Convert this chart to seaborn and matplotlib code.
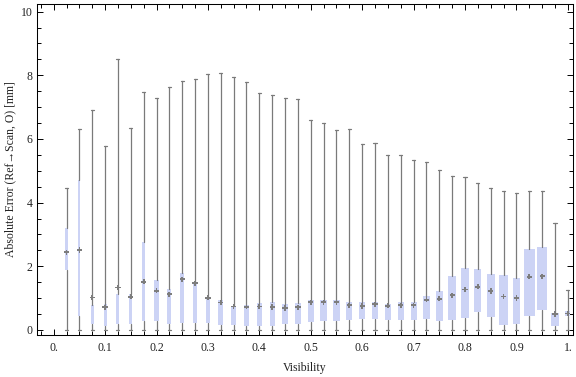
import matplotlib
matplotlib.use('Agg')
import matplotlib.pyplot as plt
import numpy as np
import pandas as pd
import seaborn as sns
from matplotlib.ticker import MultipleLocator, FixedLocator, FixedFormatter

# visibility bins (box positions)
visibility = [0.025, 0.05, 0.075, 0.1, 0.125, 0.15, 0.175, 0.2, 0.225, 0.25,
              0.275, 0.3, 0.325, 0.35, 0.375, 0.4, 0.425, 0.45, 0.475, 0.5,
              0.525, 0.55, 0.575, 0.6, 0.625, 0.65, 0.675, 0.7, 0.725, 0.75,
              0.775, 0.8, 0.825, 0.85, 0.875, 0.9, 0.925, 0.95, 0.975, 1.0]

err_min = [0.0] * 40
err_max = [4.47, 6.32, 6.92, 5.77, 8.52, 6.35, 7.48, 7.29, 7.64, 7.83,
           7.89, 8.05, 8.08, 7.95, 7.79, 7.45, 7.39, 7.29, 7.26, 6.60,
           6.51, 6.29, 6.32, 5.85, 5.88, 5.51, 5.51, 5.35, 5.29, 5.03,
           4.85, 4.79, 4.63, 4.47, 4.35, 4.31, 4.38, 4.35, 3.37, 1.26]
err_q3 = [3.20, 4.70, 0.78, 0.81, 1.13, 1.13, 2.75, 1.57, 1.28, 1.79,
          1.51, 1.03, 0.93, 0.75, 0.78, 0.85, 0.88, 0.81, 0.85, 0.94,
          0.94, 0.94, 0.88, 0.87, 0.88, 0.83, 0.88, 0.88, 1.07, 1.22,
          1.69, 1.94, 1.91, 1.76, 1.71, 1.64, 2.55, 2.61, 0.53, 0.59]
err_q1 = [1.87, 0.43, 0.18, 0.12, 0.19, 0.20, 0.29, 0.29, 0.20, 0.21,
          0.21, 0.21, 0.15, 0.16, 0.13, 0.13, 0.13, 0.20, 0.20, 0.26,
          0.29, 0.29, 0.32, 0.35, 0.35, 0.32, 0.32, 0.32, 0.35, 0.29,
          0.32, 0.39, 0.57, 0.42, 0.17, 0.20, 0.45, 0.64, 0.13, 0.45]
err_mid = [2.44, 2.51, 1.02, 0.71, 1.33, 1.04, 1.51, 1.23, 1.12, 1.59,
           1.47, 1.01, 0.86, 0.74, 0.73, 0.74, 0.72, 0.69, 0.71, 0.87,
           0.87, 0.87, 0.78, 0.75, 0.81, 0.76, 0.78, 0.78, 0.95, 0.98,
           1.09, 1.27, 1.36, 1.22, 1.05, 1.00, 1.67, 1.69, 0.50, 0.52]
# relative box widths as drawn (data units along visibility)
box_w = [0.006, 0.004, 0.006, 0.006, 0.006, 0.006, 0.006, 0.008, 0.008, 0.008,
         0.007, 0.007, 0.009, 0.009, 0.011, 0.011, 0.010, 0.0125, 0.013, 0.012,
         0.013, 0.012, 0.011, 0.012, 0.012, 0.013, 0.012, 0.012, 0.014, 0.014,
         0.015, 0.014, 0.014, 0.0155, 0.016, 0.015, 0.021, 0.0195, 0.0155, 0.010]

x_ticks = [0.0, 0.1, 0.2, 0.3, 0.4, 0.5, 0.6, 0.7, 0.8, 0.9, 1.0]
x_labels = ['0.', '0.1', '0.2', '0.3', '0.4', '0.5', '0.6', '0.7', '0.8', '0.9', '1.']

df = pd.DataFrame({'vis': visibility, 'lo': err_min, 'q1': err_q1, 'mid': err_mid,
                   'q3': err_q3, 'hi': err_max, 'w': box_w})

sns.set_theme(style='ticks')
plt.rcParams['font.family'] = ['Liberation Serif', 'DejaVu Serif']
plt.rcParams['font.size'] = 8.5

box_color = '#CCD3F5'
line_gray = '#7a7a7a'

fig, ax = plt.subplots(figsize=(5.76, 3.77), dpi=100)
fig.subplots_adjust(left=0.0637, right=0.9948, bottom=0.1122, top=0.9894)

stats = [dict(whislo=r.lo, q1=r.q1, med=r.mid, q3=r.q3, whishi=r.hi) for r in df.itertuples()]
ax.bxp(stats, positions=df.vis, widths=df.w, capwidths=0.006, patch_artist=True,
       showfliers=False, manage_ticks=False,
       boxprops=dict(facecolor=box_color, edgecolor='none', linewidth=0),
       whiskerprops=dict(color=line_gray, linewidth=0.9),
       capprops=dict(color=line_gray, linewidth=0.9),
       medianprops=dict(linewidth=0))

sns.scatterplot(data=df, x='vis', y='mid', marker='P', s=14, color='#7d7d7d',
                edgecolor='none', ax=ax, zorder=3, legend=False)

ax.set_xlim(-0.033, 1.01)
ax.set_ylim(-0.15, 10.24)

ax.xaxis.set_major_locator(FixedLocator(x_ticks))
ax.xaxis.set_major_formatter(FixedFormatter(x_labels))
ax.xaxis.set_minor_locator(MultipleLocator(0.025))
ax.yaxis.set_major_locator(MultipleLocator(2))
ax.yaxis.set_minor_locator(MultipleLocator(0.5))

ax.tick_params(which='both', direction='in', top=True, right=True, color='black',
               width=0.7, labelcolor='#222222', labelsize=8.5)
ax.tick_params(which='major', length=4)
ax.tick_params(which='minor', length=2.8)
ax.tick_params(axis='x', pad=5)
ax.tick_params(axis='y', pad=3)

for s in ax.spines.values():
    s.set_visible(True)
    s.set_linewidth(0.75)
    s.set_color('black')

ax.set_xlabel('Visibility', fontsize=8.5, color='#222222', labelpad=6)
ax.set_ylabel('Absolute Error (Ref\u2192Scan, O) [mm]', fontsize=8.5, color='#222222', labelpad=3)

fig.savefig('out.png', dpi=100)
